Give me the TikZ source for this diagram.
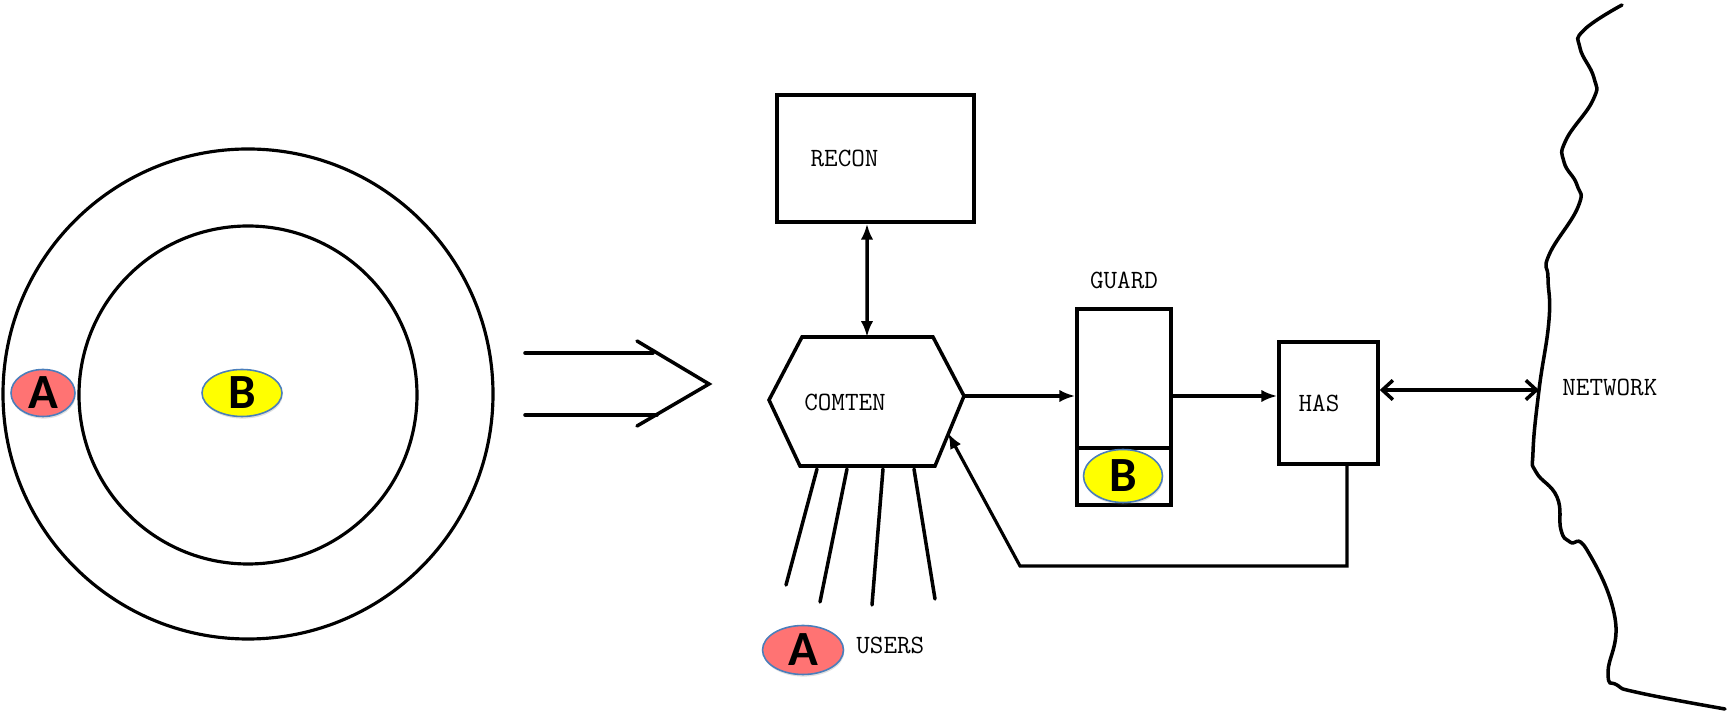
\documentclass[tikz,border=0pt]{standalone}
\usepackage{fontspec}
\usepackage{xcolor}
\usetikzlibrary{arrows.meta,positioning,shapes.geometric,shadows}
\newfontfamily\tagfont{Carlito}
\definecolor{tagred}{HTML}{FF7373}
\definecolor{tagyellow}{HTML}{FFFF00}
\definecolor{tagblue}{HTML}{4A7EBB}

\begin{document}
\begin{tikzpicture}[x=0.02cm,y=-0.02cm,>=Latex,
ring/.style={draw=black,line width=1.8pt},boxline/.style={draw=black,line width=2pt},lead/.style={draw=black,line width=2pt,line cap=round},flow/.style={draw=black,line width=2pt,-{Latex[length=9pt,width=7pt]}},bothway/.style={draw=black,line width=2pt,{Latex[length=9pt,width=7pt]}-{Latex[length=9pt,width=7pt]}},twoway/.style={draw=black,line width=2pt,{Straight Barb[length=6pt,width=11pt]}-{Straight Barb[length=6pt,width=11pt]}},caption/.style={font=\ttfamily\fontsize{15}{17}\selectfont,text=black,inner sep=0pt},tag/.style={ellipse,draw=tagblue,line width=0.9pt,inner sep=0pt,text=black,font=\tagfont\bfseries\fontsize{28}{30}\selectfont,drop shadow={opacity=0.25,shadow xshift=0.4pt,shadow yshift=-1.2pt}},tagA/.style={tag,fill=tagred},tagB/.style={tag,fill=tagyellow}]
\useasboundingbox (0,0) rectangle (1729,715);
% rings
\draw[ring] (248,394) circle[radius=245];
\draw[ring] (248,395) circle[radius=169];
\node[tagA,minimum width=1.28cm,minimum height=0.94cm] (ringA) at (43,393) {A};
\node[tagB,minimum width=1.6cm,minimum height=0.94cm] (ringB) at (242,393) {B};
% big arrow
\draw[lead] (525,353) -- (653,353);
\draw[lead] (525,415) -- (657,415);
\draw[lead,line join=miter] (637,341) -- (709,384) -- (637,426);
% recon and comten
\node[boxline,minimum width=3.94cm,minimum height=2.54cm] (recon) at (875.5,158.5) {};
\node[caption,anchor=west] (recontext) at ([xshift=0.7cm]recon.west) {RECON};
\coordinate (comten top) at (867,337);
\coordinate (comten east) at (964,396);
\draw[boxline,line join=miter] (802,337) -- (933,337) -- (comten east) -- (935,466) -- (800,466) -- (769,400) -- cycle;
\node[caption] (comten) at (845,402) {COMTEN};
\draw[bothway] ([xshift=-0.17cm]recon.south) -- (comten top);
% users
\foreach \xa/\xb/\yb in {817/786/585,847/820/602,883/872/605,914/935/599}
  \draw[lead] (\xa,469) -- (\xb,\yb);
\node[tagA,minimum width=1.62cm,minimum height=0.98cm] (usersA) at (803,650) {A};
\node[caption,anchor=west] (users) at (856,645) {USERS};
% guard
\node[boxline,minimum width=1.88cm,minimum height=3.92cm] (guard) at (1124,407) {};
\node[caption,above=0.37cm of guard] (guardtext) {GUARD};
\coordinate (guard split) at (1124,448);
\draw[boxline] (guard.west |- guard split) -- (guard.east |- guard split);
\node[tagB,minimum width=1.58cm,minimum height=1.06cm] (guardB) at (1123,476) {B};
% has
\node[boxline,minimum width=1.98cm,minimum height=2.44cm] (has) at (1328.5,403) {};
\node[caption,anchor=west] (hastext) at ([xshift=0.42cm]has.west) {HAS};
\draw[flow] (comten east) -- (comten east -| guard.west);
\draw[flow] (guard.east |- comten east) -- (has.west |- comten east);
\coordinate (net point) at (1539,390);
\draw[twoway] (has.east |- net point) -- (net point);
\coordinate (loop corner) at (1020,566);
\coordinate (loop tip) at (948,433);
\draw[flow,line width=1.8pt] ([xshift=0.37cm]has.south) |- (loop corner) -- (loop tip);
% network edge
\draw[line width=2pt,line cap=round] plot[smooth,tension=0.8] coordinates {(1622,5) (1584,30) (1580,48) (1594,78) (1593,100) (1566,140) (1564,162) (1577,185) (1578,207) (1549,255) (1548,278) (1549,320) (1539,390) (1533,452) (1536,472) (1557,497) (1561,530) (1570,542) (1587,550) (1615,618) (1608,673) (1617,685) (1640,693) (1725,709)};
\node[caption,anchor=west] (network) at (1562,387) {NETWORK};
\end{tikzpicture}
\end{document}
